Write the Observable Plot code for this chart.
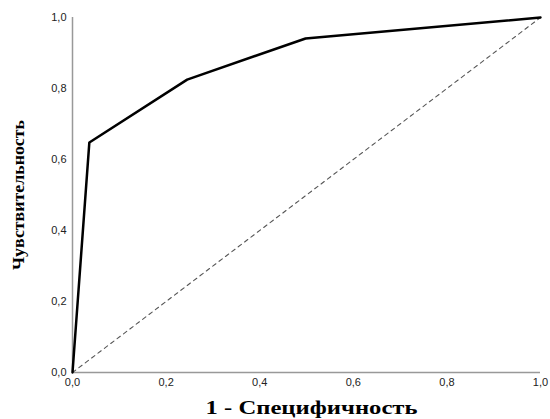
<!DOCTYPE html>
<html><head><meta charset="utf-8">
<script src="https://cdn.jsdelivr.net/npm/d3@7"></script>
<script src="https://cdn.jsdelivr.net/npm/@observablehq/plot@0.6"></script>
<style>body{margin:0;background:#fff}</style>
</head><body><div id="chart"></div>
<script>
const fpr = [0, 0.036, 0.245, 0.498, 1];
const tpr = [0, 0.648, 0.825, 0.941, 1];
const refX = [0, 1];
const refY = [0, 1];
const ticks = [0, 0.2, 0.4, 0.6, 0.8, 1];
const xLabel = "1 - Специфичность";
const yLabel = "Чувствительность";

const roc = fpr.map((x, i) => ({x, y: tpr[i]}));
const ref = refX.map((x, i) => ({x, y: refY[i]}));
const fmt = d => d.toFixed(1).replace(".", ",");

const plot = Plot.plot({
  width: 550, height: 419,
  marginLeft: 72, marginRight: 10, marginTop: 17, marginBottom: 47,
  style: {fontFamily: "Liberation Sans, Arial, sans-serif", fontSize: "11px", color: "#222"},
  x: {domain: [0, 1], ticks, tickFormat: fmt, tickSize: 0, tickPadding: 6, label: null},
  y: {domain: [0, 1], ticks, tickFormat: fmt, tickSize: 0, tickPadding: 6, label: null},
  marks: [
    Plot.ruleX([0], {stroke: "#999", strokeWidth: 1.5}),
    Plot.ruleY([0], {stroke: "#999", strokeWidth: 1.5}),
    Plot.line(ref, {x: "x", y: "y", stroke: "#555", strokeWidth: 1.1, strokeDasharray: "4,4"}),
    Plot.line(roc, {x: "x", y: "y", stroke: "#000", strokeWidth: 2.5}),
    Plot.text([xLabel], {frameAnchor: "bottom", dx: 5, dy: 41, className: "xlab", fontFamily: "Liberation Serif, Times New Roman, serif", fontWeight: "bold", fontSize: 18, fill: "#000"}),
    Plot.text([yLabel], {frameAnchor: "left", textAnchor: "middle", dx: -54, dy: 0, className: "ylab", rotate: -90, fontFamily: "Liberation Serif, Times New Roman, serif", fontWeight: "bold", fontSize: 17, fill: "#000"})
  ]
});
plot.querySelectorAll(".xlab text").forEach(t => { t.setAttribute("textLength", 212); t.setAttribute("lengthAdjust", "spacingAndGlyphs"); });
plot.querySelectorAll(".ylab text").forEach(t => { t.setAttribute("textLength", 150); t.setAttribute("lengthAdjust", "spacingAndGlyphs"); });
document.getElementById("chart").appendChild(plot);
</script>
</body></html>
